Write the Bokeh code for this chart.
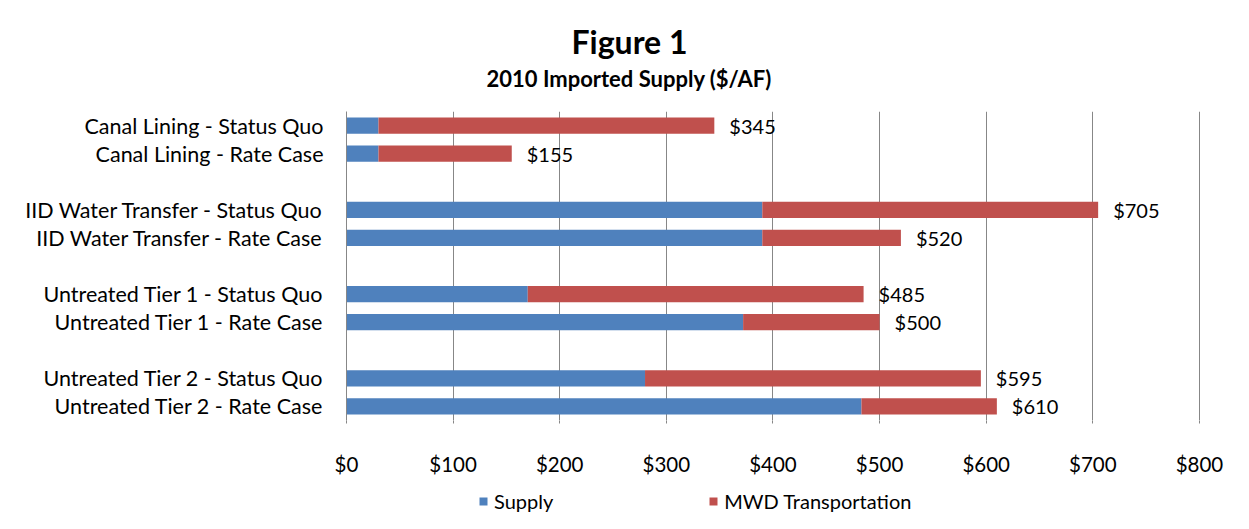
from bokeh.plotting import figure
from bokeh.layouts import column
from bokeh.models import (ColumnDataSource, FactorRange, Range1d, Title, Legend,
                          LegendItem, NumeralTickFormatter, FixedTicker)
from bokeh.core.properties import value
from bokeh.embed import file_html
from bokeh.resources import INLINE

# ---------------- data ----------------
categories = [
    "Canal Lining - Status Quo",
    "Canal Lining - Rate Case",
    "IID Water Transfer - Status Quo",
    "IID Water Transfer - Rate Case",
    "Untreated Tier 1 - Status Quo",
    "Untreated Tier 1 - Rate Case",
    "Untreated Tier 2 - Status Quo",
    "Untreated Tier 2 - Rate Case",
]
supply = [30, 30, 390, 390, 170, 372, 280, 483]
mwd_transportation = [315, 125, 315, 130, 315, 128, 315, 127]
series_names = ["Supply", "MWD Transportation"]
x_ticks = [0, 100, 200, 300, 400, 500, 600, 700, 800]
title_text = "Figure 1"
subtitle_text = "2010 Imported Supply ($/AF)"

# ---------------- styling ----------------
FONT = "Lato"
BLUE = "#4F81BD"
RED = "#C0504D"
GRID = "#878787"
TEXT = "#000000"

totals = [s + m for s, m in zip(supply, mwd_transportation)]
total_labels = [f"${t}" for t in totals]

# factor slots (top to bottom), with blank spacer slots between pairs
slots = []
for i in range(0, len(categories), 2):
    if i > 0:
        slots.append(" " * (i // 2))
    slots.extend(categories[i:i + 2])

source = ColumnDataSource(dict(
    cat=categories, supply=supply, mwd=mwd_transportation,
    total=totals, label=total_labels,
))

p = figure(
    width=1233, height=483,
    y_range=FactorRange(factors=list(reversed(slots)), range_padding=0),
    x_range=Range1d(0, 801),
    output_backend="svg", toolbar_location=None,
    min_border_left=346, min_border_right=33,
    min_border_top=111, min_border_bottom=63,
)
p.outline_line_color = None
p.background_fill_color = "white"
p.border_fill_color = "white"

p.hbar_stack(["supply", "mwd"], y="cat", height=0.58,
             color=[BLUE, RED], line_color=None, source=source)

p.text(x="total", y="cat", text="label", source=source, x_offset=15,
       text_baseline="middle", text_align="left",
       text_font=value(FONT), text_font_size="20px", text_color=TEXT)

# axes
p.xaxis.ticker = FixedTicker(ticks=x_ticks)
p.xaxis.formatter = NumeralTickFormatter(format="$0")
p.xaxis.axis_line_color = None
p.xaxis.major_tick_out = 3
p.xaxis.major_tick_in = 0
p.xaxis.major_tick_line_color = GRID
p.xaxis.minor_tick_line_color = None
p.xaxis.major_label_standoff = 28
p.xaxis.major_label_text_font = FONT
p.xaxis.major_label_text_font_size = "20.5px"
p.xaxis.major_label_text_color = TEXT

p.yaxis.axis_line_color = GRID
p.yaxis.major_tick_line_color = None
p.yaxis.minor_tick_line_color = None
p.yaxis.major_label_standoff = 17
p.yaxis.major_label_text_font = FONT
p.yaxis.major_label_text_font_size = "21.5px"
p.yaxis.major_label_text_color = TEXT

p.xgrid.grid_line_color = GRID
p.xgrid.ticker = FixedTicker(ticks=x_ticks)
p.ygrid.grid_line_color = None

# titles (first added sits closest to the plot)
p.add_layout(Title(text=subtitle_text, align="left", offset=140, standoff=40,
                   text_font=FONT, text_font_size="22px", text_font_style="bold",
                   text_color=TEXT), "above")
p.add_layout(Title(text=title_text, align="left", offset=225, standoff=-36,
                   text_font=FONT, text_font_size="32px", text_font_style="bold",
                   text_color=TEXT), "above")

# legend strip below the chart (frames of a column are aligned)
p_leg = figure(
    width=1233, height=30,
    x_range=Range1d(0, 800), y_range=FactorRange(factors=categories),
    output_backend="svg", toolbar_location=None,
    x_axis_location=None, y_axis_location=None,
    min_border=0,
)
p_leg.outline_line_color = None
p_leg.grid.grid_line_color = None
# zero-height bars: they only carry the legend swatch styles
leg_renderers = p_leg.hbar_stack(["supply", "mwd"], y="cat", height=0,
                                 color=[BLUE, RED], line_color=None, source=source)
legend = Legend(
    items=[LegendItem(label=n, renderers=[r]) for n, r in zip(series_names, leg_renderers)],
    location=(132, 0), orientation="horizontal",
    glyph_width=10, glyph_height=10, label_standoff=6, spacing=155,
    padding=0, margin=0, border_line_color=None, background_fill_alpha=0,
    label_text_font=FONT, label_text_font_size="20px", label_text_color=TEXT,
    label_height=20,
)
p_leg.add_layout(legend)

layout = column(p, p_leg, spacing=0)
open("out.html", "w").write(file_html(layout, INLINE))
